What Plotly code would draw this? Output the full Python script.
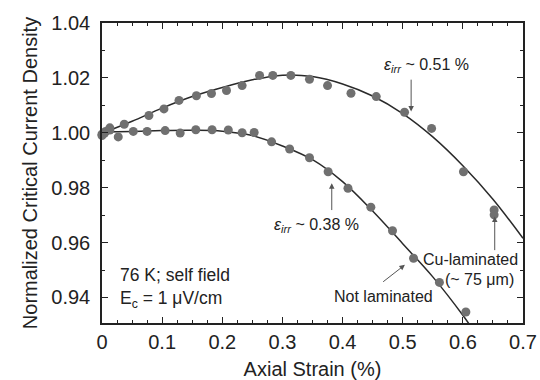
import plotly.graph_objects as go

# Measured critical current vs. axial strain (normalized)
cu_strain = [0.000, 0.006, 0.013, 0.037, 0.078, 0.103, 0.128, 0.157, 0.182, 0.207,
             0.233, 0.262, 0.284, 0.314, 0.345, 0.375, 0.414, 0.456, 0.503, 0.548,
             0.601, 0.652, 0.652]
cu_jc = [0.9995, 1.0005, 1.0018, 1.0031, 1.0063, 1.0087, 1.0118, 1.0135, 1.0143, 1.0154,
         1.0172, 1.0209, 1.0209, 1.0209, 1.0195, 1.0172, 1.0144, 1.0132, 1.0075, 1.0016,
         0.9858, 0.9719, 0.9701]

bare_strain = [0.000, 0.004, 0.013, 0.027, 0.052, 0.075, 0.105, 0.130, 0.156, 0.183,
               0.210, 0.233, 0.253, 0.282, 0.312, 0.345, 0.376, 0.409, 0.447, 0.483,
               0.518, 0.561, 0.605]
bare_jc = [0.9990, 0.9998, 1.0010, 0.9985, 1.0005, 1.0005, 1.0008, 0.9999, 1.0011, 1.0011,
           1.0010, 1.0000, 1.0001, 0.9967, 0.9941, 0.9909, 0.9858, 0.9798, 0.9729, 0.9643,
           0.9543, 0.9455, 0.9347]

# Fitted curves
fit_cu_strain = [0.00, 0.05, 0.10, 0.15, 0.20, 0.25, 0.30, 0.35, 0.40, 0.45, 0.50,
                 0.55, 0.60, 0.65, 0.70]
fit_cu_jc = [0.9998, 1.0042, 1.0090, 1.0132, 1.0165, 1.0193, 1.0210, 1.0205, 1.0178,
             1.0134, 1.0070, 0.9985, 0.9880, 0.9758, 0.9616]

fit_bare_strain = [0.00, 0.05, 0.10, 0.15, 0.20, 0.25, 0.30, 0.35, 0.40, 0.45, 0.50,
                   0.55, 0.60, 0.63]
fit_bare_jc = [1.0003, 1.0005, 1.0008, 1.0009, 1.0006, 0.9990, 0.9952, 0.9902, 0.9822,
               0.9715, 0.9596, 0.9475, 0.9335, 0.9240]

x_ticks = [0, 0.1, 0.2, 0.3, 0.4, 0.5, 0.6, 0.7]
x_labels = ["0", "0.1", "0.2", "0.3", "0.4", "0.5", "0.6", "0.7"]
y_ticks = [0.94, 0.96, 0.98, 1.00, 1.02, 1.04]
y_labels = ["0.94", "0.96", "0.98", "1.00", "1.02", "1.04"]

FONT = "Liberation Sans, Arial, sans-serif"
DOT = "#707070"
LINE = "#2a2a2a"

fig = go.Figure()
for xs, ys in [(fit_cu_strain, fit_cu_jc), (fit_bare_strain, fit_bare_jc)]:
    fig.add_trace(go.Scatter(x=xs, y=ys, mode="lines", line_shape="spline",
                             line=dict(color=LINE, width=1.5), showlegend=False,
                             hoverinfo="skip"))
for xs, ys in [(cu_strain, cu_jc), (bare_strain, bare_jc)]:
    fig.add_trace(go.Scatter(x=xs, y=ys, mode="markers", cliponaxis=False,
                             marker=dict(color=DOT, size=9, line=dict(width=0)),
                             showlegend=False))

ann_font = dict(family=FONT, size=16, color="#222")
arrow = dict(showarrow=True, arrowhead=2, arrowsize=1.1, arrowwidth=1,
             arrowcolor="#555", axref="x", ayref="y", standoff=0, text="")
annotations = [
    dict(x=0.540, y=1.0246, text="<i>ε</i><sub><i>irr</i></sub> ~ 0.51 %",
         showarrow=False, font=ann_font),
    dict(x=0.514, y=1.0078, ax=0.514, ay=1.0199, **arrow),
    dict(x=0.356, y=0.9661, text="<i>ε</i><sub><i>irr</i></sub> ~ 0.38 %",
         showarrow=False, font=ann_font),
    dict(x=0.382, y=0.9816, ax=0.382, ay=0.9713, **arrow),
    dict(x=0.695, y=0.9537, text="Cu-laminated", xanchor="right",
         showarrow=False, font=ann_font),
    dict(x=0.689, y=0.9464, text="(~ 75 μm)", xanchor="right",
         showarrow=False, font=ann_font),
    dict(x=0.653, y=0.9695, ax=0.653, ay=0.9567, **arrow),
    dict(x=0.468, y=0.9403, text="Not laminated", showarrow=False, font=ann_font),
    dict(x=0.5037, y=0.9519, ax=0.465, ay=0.9453, **arrow),
    dict(x=0.026, y=0.9483, text="76 K; self field", xanchor="left",
         showarrow=False, font=dict(family=FONT, size=17.5, color="#222")),
    dict(x=0.026, y=0.9392, text="E<sub>c</sub> = 1 μV/cm", xanchor="left",
         showarrow=False, font=dict(family=FONT, size=17.5, color="#222")),
]

axis_common = dict(showgrid=False, zeroline=False, showline=True, linecolor="#222",
                   linewidth=1.5, mirror="ticks", ticks="inside", ticklen=6,
                   tickwidth=1, tickcolor="#222", automargin=False,
                   tickfont=dict(family=FONT, size=20, color="#222"))

fig.update_layout(
    width=540, height=380,
    margin=dict(l=102, r=17, t=23, b=57),
    paper_bgcolor="white", plot_bgcolor="white",
    annotations=annotations,
    xaxis=dict(range=[0, 0.7], tickvals=x_ticks, ticktext=x_labels,
               minor=dict(dtick=0.025, tick0=0, ticks="inside", ticklen=3,
                          tickcolor="#222"),
               title=dict(text="Axial Strain (%)", standoff=10,
                          font=dict(family=FONT, size=20, color="#222")),
               **axis_common),
    yaxis=dict(range=[0.9307, 1.04], tickvals=y_ticks, ticktext=y_labels,
               ticklabelstandoff=6,
               minor=dict(dtick=0.01, tick0=0.94, ticks="inside", ticklen=3,
                          tickcolor="#222"),
               title=dict(text="Normalized Critical Current Density", standoff=8,
                          font=dict(family=FONT, size=20, color="#222")),
               **axis_common),
)

fig.write_html("out.html")
